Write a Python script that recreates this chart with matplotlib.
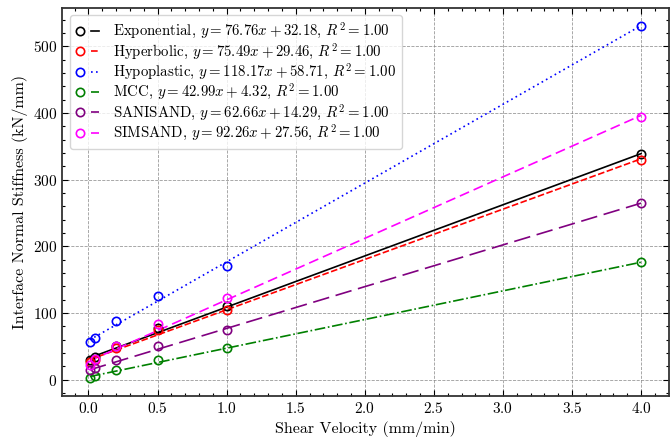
import numpy as np
import matplotlib
matplotlib.use('Agg')
from matplotlib import pyplot as plt
from matplotlib.legend_handler import HandlerTuple
from matplotlib.ticker import AutoMinorLocator

# shear velocity (mm/min)
velocity = [0.01, 0.05, 0.2, 0.5, 1.0, 4.0]

models = ['Exponential', 'Hyperbolic', 'Hypoplastic', 'MCC', 'SANISAND', 'SIMSAND']

# measured stiffness (kN/mm), one list per model
exponential = [30, 34, 50, 77, 110, 339]
hyperbolic = [26, 29, 48, 74, 105, 330]
hypoplastic = [57, 62, 88, 126, 171, 531]
mcc = [2, 5, 15, 29, 48, 176]
sanisand = [14, 17, 30, 50, 75, 265]
simsand = [22, 31, 50, 84, 122, 394]

# linear fits from the legend
slopes = [76.76, 75.49, 118.17, 42.99, 62.66, 92.26]
intercepts = [32.18, 29.46, 58.71, 4.32, 14.29, 27.56]
r2 = [1.00, 1.00, 1.00, 1.00, 1.00, 1.00]

colors = ['black', 'red', 'blue', 'green', 'purple', 'magenta']
linestyles = ['-', (0, (4, 1.5)), (0, (1, 2)), '-.', (0, (10, 4)), (0, (6, 3))]

plt.rcParams['font.family'] = 'serif'
plt.rcParams['font.serif'] = ['cmr10']
plt.rcParams['mathtext.fontset'] = 'cm'
plt.rcParams['axes.formatter.use_mathtext'] = True
plt.rcParams['font.size'] = 10.5

fig = plt.figure(figsize=(6.7, 4.4), dpi=100)
ax = fig.add_axes([0.093, 0.1, 0.905, 0.882])

series = [exponential, hyperbolic, hypoplastic, mcc, sanisand, simsand]
handles = []
labels = []
for name, vals, m, b, r, c, ls in zip(models, series, slopes, intercepts, r2, colors, linestyles):
    x = np.array(velocity)
    pts, = ax.plot(x, vals, 'o', mfc='none', mec=c, ms=6, mew=1.2, zorder=3)
    fit, = ax.plot(x, m * x + b, color=c, linestyle=ls, lw=1.2, zorder=2)
    handles.append((pts, fit))
    labels.append(f'{name}, $y = {m:.2f}x + {b:.2f}$, $R^2 = {r:.2f}$')

ax.set_xlabel('Shear Velocity (mm/min)', fontsize=11.5)
ax.set_ylabel('Interface Normal Stiffness (kN/mm)', fontsize=11.5)
ax.set_xticks(np.arange(0, 4.01, 0.5))
ax.xaxis.set_minor_locator(AutoMinorLocator())
ax.yaxis.set_minor_locator(AutoMinorLocator())
ax.tick_params(which='both', direction='in', top=True, right=True, labelsize=11)
ax.tick_params(which='major', length=4, width=0.8)
ax.tick_params(which='minor', length=2, width=0.8)
for sp in ax.spines.values():
    sp.set_linewidth(1.3)
    sp.set_color('#333333')
ax.grid(True, which='major', linestyle='--', color='gray', linewidth=0.6, alpha=0.8)

ax.legend(handles, labels, loc='upper left', handler_map={tuple: HandlerTuple(ndivide=None, pad=0.5)},
          handlelength=1.6, handletextpad=0.9, fancybox=True, framealpha=0.8, fontsize=10.7,
          labelspacing=0.02, borderpad=0.4)

plt.savefig('out.png')
